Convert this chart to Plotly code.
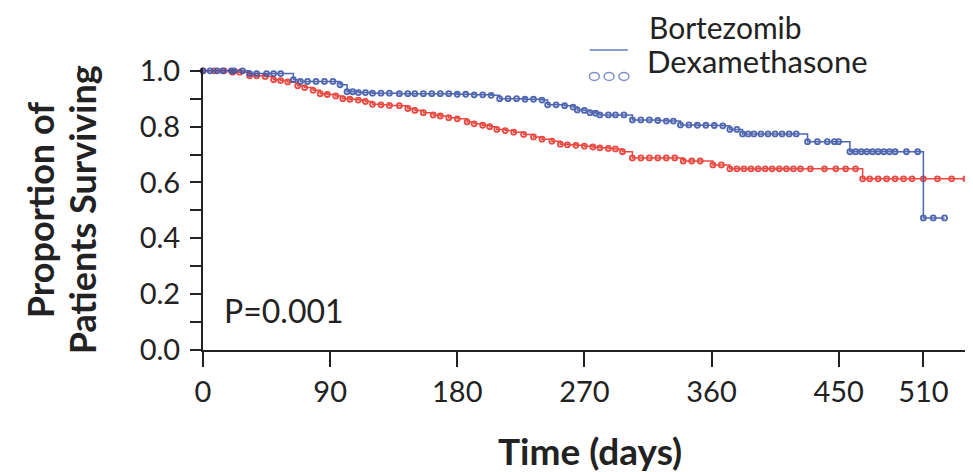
import plotly.graph_objects as go

# Kaplan-Meier data (days, proportion surviving); repeated values = censor marks
bort_days = [0, 5, 10, 14, 20, 22, 28, 33, 38, 45, 50, 55, 64, 69, 74, 80, 86, 92, 97, 102, 106, 110, 115, 120,
             126, 132, 139, 145, 150, 156, 162, 168, 174, 180, 186, 192, 198, 204, 210, 216, 222, 228, 234, 240,
             244, 250, 256, 262, 265, 270, 274, 278, 281, 287, 292, 298, 304, 310, 316, 322, 328, 333, 338, 344,
             350, 356, 362, 368, 373, 378, 382, 386, 390, 395, 400, 405, 410, 415, 420, 428, 435, 442, 447, 450,
             458, 462, 466, 470, 474, 478, 482, 486, 490, 498, 506, 510, 517, 525]
bort_surv = [1.0, 1.0, 1.0, 1.0, 1.0, 1.0, 1.0, 0.99, 0.99, 0.99, 0.99, 0.99, 0.968, 0.962, 0.962, 0.962, 0.962,
             0.962, 0.95, 0.925, 0.925, 0.922, 0.922, 0.92, 0.92, 0.92, 0.918, 0.918, 0.918, 0.918, 0.918, 0.918,
             0.918, 0.916, 0.916, 0.914, 0.914, 0.912, 0.90, 0.90, 0.90, 0.898, 0.898, 0.895, 0.878, 0.878, 0.875,
             0.87, 0.86, 0.858, 0.85, 0.848, 0.842, 0.842, 0.842, 0.842, 0.824, 0.824, 0.824, 0.822, 0.82, 0.82,
             0.806, 0.806, 0.805, 0.805, 0.804, 0.803, 0.79, 0.79, 0.774, 0.774, 0.774, 0.774, 0.774, 0.774,
             0.774, 0.774, 0.774, 0.746, 0.746, 0.746, 0.746, 0.746, 0.71, 0.71, 0.71, 0.71, 0.71, 0.71, 0.71,
             0.71, 0.71, 0.71, 0.71, 0.473, 0.473, 0.473]

dexa_days = [0, 8, 15, 21, 26, 33, 38, 44, 50, 55, 60, 67, 72, 78, 83, 88, 94, 99, 104, 110, 115, 120, 126, 132,
             139, 145, 150, 156, 163, 168, 174, 180, 187, 192, 198, 203, 208, 214, 220, 227, 234, 240, 247, 253,
             258, 264, 270, 276, 281, 287, 292, 297, 304, 310, 316, 322, 328, 334, 340, 346, 352, 361, 367, 373,
             378, 383, 388, 393, 398, 403, 408, 413, 418, 423, 430, 440, 448, 455, 462, 467, 472, 478, 484, 490,
             496, 502, 510, 520, 530, 540]
dexa_surv = [1.0, 1.0, 1.0, 0.995, 0.995, 0.982, 0.982, 0.98, 0.968, 0.965, 0.96, 0.946, 0.94, 0.93, 0.918, 0.915,
             0.91, 0.90, 0.898, 0.895, 0.89, 0.88, 0.878, 0.876, 0.875, 0.865, 0.858, 0.85, 0.842, 0.838, 0.832,
             0.828, 0.817, 0.81, 0.805, 0.80, 0.79, 0.786, 0.78, 0.772, 0.763, 0.755, 0.748, 0.737, 0.735, 0.733,
             0.73, 0.727, 0.724, 0.722, 0.72, 0.71, 0.688, 0.688, 0.688, 0.688, 0.688, 0.688, 0.677, 0.677, 0.677,
             0.663, 0.663, 0.649, 0.649, 0.649, 0.649, 0.649, 0.649, 0.649, 0.649, 0.649, 0.649, 0.649, 0.649,
             0.649, 0.649, 0.649, 0.649, 0.613, 0.613, 0.613, 0.613, 0.613, 0.613, 0.613, 0.613, 0.613, 0.613,
             0.613]

x_ticks = [0, 90, 180, 270, 360, 450, 510]
y_ticks = [0.0, 0.2, 0.4, 0.6, 0.8, 1.0]
y_minor = [0.1, 0.3, 0.5, 0.7, 0.9]

RED = "#e8372e"
BLUE = "#3d57a8"
INK = "#222222"
FONT = "Lato"

fig = go.Figure()
fig.add_trace(go.Scatter(
    x=dexa_days, y=dexa_surv, mode="lines+markers", line_shape="hv",
    line=dict(color=RED, width=1.5),
    marker=dict(symbol="circle-open", size=5, color=RED, line=dict(width=1.8)),
    opacity=0.9, showlegend=False, cliponaxis=False))
fig.add_trace(go.Scatter(
    x=bort_days, y=bort_surv, mode="lines+markers", line_shape="hv",
    line=dict(color=BLUE, width=1.5),
    marker=dict(symbol="circle-open", size=5, color=BLUE, line=dict(width=1.8)),
    opacity=0.9, showlegend=False, cliponaxis=False))

axis_common = dict(showgrid=False, zeroline=False, showline=True, linecolor=INK,
                   linewidth=2, ticks="outside", tickcolor=INK, tickwidth=1.5)

fig.update_xaxes(range=[0, 550.8], tickvals=x_ticks, ticklen=15,
                 tickfont=dict(family=FONT, size=29, color=INK), **axis_common)
fig.update_yaxes(range=[0, 1.01], tickvals=y_ticks, ticktext=[f"{v:.1f}" for v in y_ticks],
                 ticklen=11, ticklabelstandoff=4,
                 tickfont=dict(family=FONT, size=29, color=INK),
                 minor=dict(tickvals=y_minor, ticks="outside", ticklen=11,
                            tickcolor=INK, tickwidth=1.5), **axis_common)

annotations = [
    dict(text="<b>Proportion of</b>", xref="paper", yref="paper",
         x=-0.2095, y=0.496, xanchor="center", yanchor="middle", textangle=-90, showarrow=False,
         font=dict(family=FONT, size=36, color=INK)),
    dict(text="<b>Patients Surviving</b>", xref="paper", yref="paper",
         x=-0.1555, y=0.496, xanchor="center", yanchor="middle", textangle=-90, showarrow=False,
         font=dict(family=FONT, size=36, color=INK)),
    dict(text="<b>Time (days)</b>", xref="paper", yref="paper", x=0.497, y=-0.355,
         xanchor="center", yanchor="middle", showarrow=False,
         font=dict(family=FONT, size=37, color=INK)),
    dict(text="P=0.001", xref="x", yref="y", x=13.5, y=0.14, xanchor="left", yanchor="middle",
         showarrow=False, font=dict(family=FONT, size=32, color=INK)),
    dict(text="Bortezomib", xref="paper", yref="paper", x=0.571, y=1.146, xanchor="left",
         yanchor="middle", showarrow=False, font=dict(family=FONT, size=30, color=INK)),
    dict(text="Dexamethasone", xref="paper", yref="paper", x=0.568, y=1.026, xanchor="left",
         yanchor="middle", showarrow=False, font=dict(family=FONT, size=31, color=INK)),
]

shapes = [
    dict(type="line", xref="paper", yref="paper", x0=0.497, x1=0.546, y0=1.064, y1=1.064,
         line=dict(color="#8c9bd0", width=2)),
]
for cx in [0.503, 0.522, 0.541]:
    shapes.append(dict(type="circle", xref="paper", yref="paper", x0=cx - 0.0064, x1=cx + 0.0064,
                       y0=0.956, y1=0.984, line=dict(color="#7d8ec8", width=1.5)))

fig.update_layout(
    width=973, height=472, margin=dict(l=195, r=0, t=60, b=130),
    paper_bgcolor="white", plot_bgcolor="white",
    annotations=annotations, shapes=shapes, showlegend=False,
)

fig.write_html("out.html")
